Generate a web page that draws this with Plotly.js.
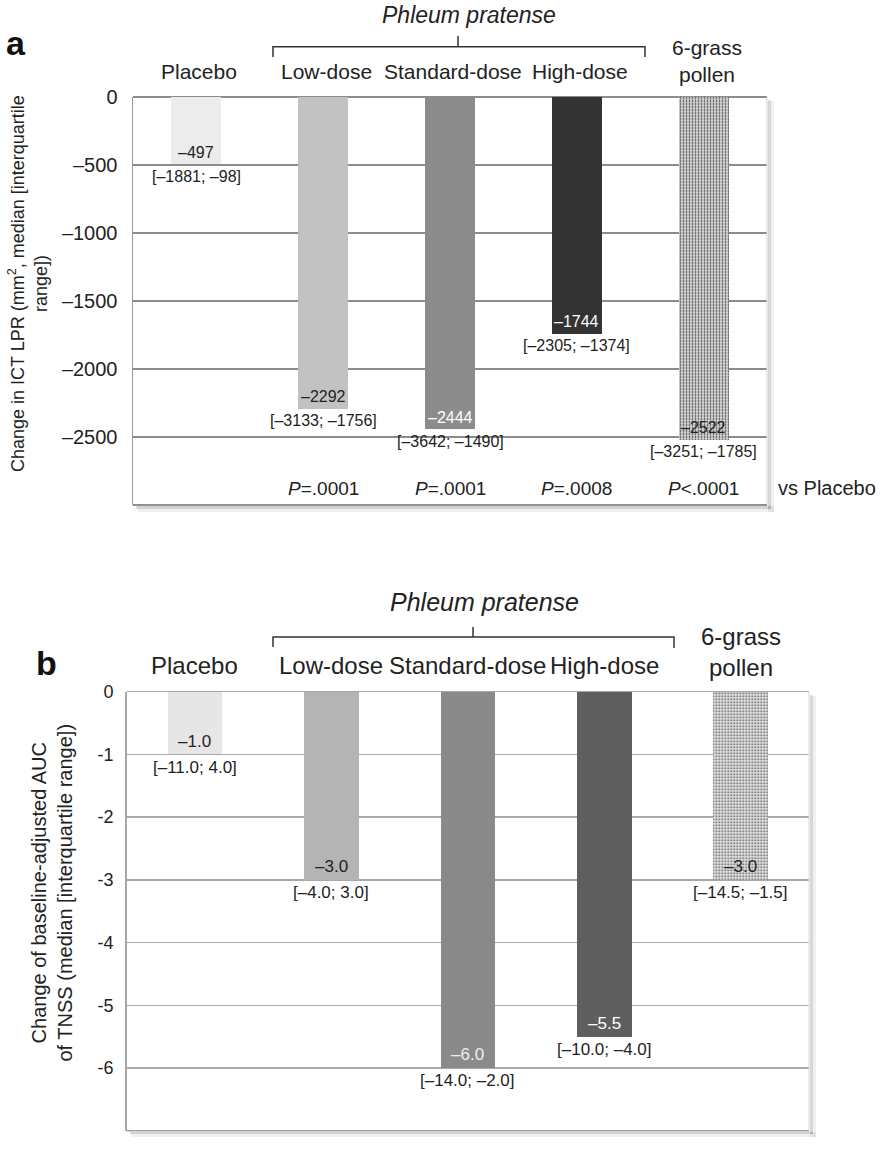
<!DOCTYPE html>
<html><head><meta charset="utf-8">
<script src="https://cdn.plot.ly/plotly-3.0.1.min.js"></script>
<style>html,body{margin:0;padding:0;background:#fff}</style>
</head><body><div id="chart" style="width:885px;height:1150px"></div>
<script>
// ---- data ----
const categories = ['Placebo', 'Low-dose', 'Standard-dose', 'High-dose', '6-grass<br>pollen'];
const lprMedian = [-497, -2292, -2444, -1744, -2522];
const lprQ1 = [-1881, -3133, -3642, -2305, -3251];
const lprQ3 = [-98, -1756, -1490, -1374, -1785];
const pCategories = ['Low-dose', 'Standard-dose', 'High-dose', '6-grass<br>pollen'];
const pValues = ['=.0001', '=.0001', '=.0008', '<.0001'];
const tnssMedian = [-1.0, -3.0, -6.0, -5.5, -3.0];
const tnssQ1 = [-11.0, -4.0, -14.0, -10.0, -14.5];
const tnssQ3 = [4.0, 3.0, -2.0, -4.0, -1.5];
const lprTicks = [0, -500, -1000, -1500, -2000, -2500];
const tnssTicks = [0, -1, -2, -3, -4, -5, -6];

// ---- style ----
const FONT = 'Liberation Sans, Arial, Helvetica, sans-serif';
const INK = '#222';
const colorsA = ['#ececec', '#c2c2c2', '#8c8c8c', '#333333', '#dadada'];
const colorsB = ['#e6e6e6', '#b4b4b4', '#8a8a8a', '#5f5f5f', '#e0e0e0'];
const inkA = [INK, INK, '#ffffff', '#ffffff', INK];
const inkB = [INK, INK, '#eeeeee', '#ffffff', INK];
const W = 885, H = 1150;
const px = x => x / W;
const py = y => 1 - y / H;
const dash = s => String(s).replace(/-/g, '\u2013');
const esc = s => s.replace(/</g, '&lt;');

const traces = [
  {
    type: 'bar', x: categories, y: lprMedian, xaxis: 'x', yaxis: 'y', width: 0.394,
    marker: {color: colorsA, line: {width: 0},
      pattern: {shape: ['', '', '', '', '.'], fgcolor: '#9a9a9a', fgopacity: 1, size: 3, solidity: 0.28, fillmode: 'overlay'}},
    hoverinfo: 'skip', showlegend: false
  },
  {
    type: 'bar', x: categories, y: tnssMedian, xaxis: 'x2', yaxis: 'y2', width: 0.40,
    marker: {color: colorsB, line: {width: 0},
      pattern: {shape: ['', '', '', '', '.'], fgcolor: '#9a9a9a', fgopacity: 1, size: 3, solidity: 0.25, fillmode: 'overlay'}},
    hoverinfo: 'skip', showlegend: false
  }
];

const ann = [];
// value + IQR labels, panel a
categories.forEach((c, i) => {
  ann.push({x: c, y: lprMedian[i], xref: 'x', yref: 'y', text: dash(lprMedian[i]), showarrow: false,
    xanchor: 'center', yshift: 12, yanchor: 'middle', font: {family: FONT, size: 16, color: inkA[i]}});
  ann.push({x: c, y: lprMedian[i], xref: 'x', yref: 'y', text: '[' + dash(lprQ1[i]) + '; ' + dash(lprQ3[i]) + ']', showarrow: false,
    xanchor: 'center', yshift: -12, yanchor: 'middle', font: {family: FONT, size: 16, color: INK}});
});
// value + IQR labels, panel b
categories.forEach((c, i) => {
  ann.push({x: c, y: tnssMedian[i], xref: 'x2', yref: 'y2', text: dash(tnssMedian[i].toFixed(1)), showarrow: false,
    xanchor: 'center', yshift: 13, yanchor: 'middle', font: {family: FONT, size: 17, color: inkB[i]}});
  ann.push({x: c, y: tnssMedian[i], xref: 'x2', yref: 'y2', text: '[' + dash(tnssQ1[i].toFixed(1)) + '; ' + dash(tnssQ3[i].toFixed(1)) + ']', showarrow: false,
    xanchor: 'center', yshift: -13, yanchor: 'middle', font: {family: FONT, size: 17, color: INK}});
});
// category headers
categories.forEach((c, i) => {
  const multi = c.indexOf('<br>') >= 0;
  ann.push({x: c, xref: 'x', y: py(multi ? 60.5 : 72), yref: 'paper', text: c, showarrow: false, xshift: 3,
    xanchor: 'center', yanchor: 'middle', font: {family: FONT, size: 21, color: INK}});
  ann.push({x: c, xref: 'x2', y: py(multi ? 651.5 : 665), yref: 'paper', text: c, showarrow: false,
    xanchor: 'center', yanchor: 'middle', font: {family: FONT, size: 24, color: INK}});
});
// p values
pCategories.forEach((c, i) => {
  ann.push({x: c, xref: 'x', y: py(488), yref: 'paper', text: '<i>P</i>' + esc(pValues[i]), showarrow: false,
    xanchor: 'center', yanchor: 'middle', font: {family: FONT, size: 19, color: INK}});
});
ann.push({x: px(776), y: py(488), xref: 'paper', yref: 'paper', xanchor: 'left', yanchor: 'middle', showarrow: false,
  text: 'vs Placebo', font: {family: FONT, size: 20, color: INK}});
// group titles
ann.push({x: px(469), y: py(15), xref: 'paper', yref: 'paper', showarrow: false, xanchor: 'center', yanchor: 'middle',
  text: '<i>Phleum pratense</i>', font: {family: FONT, size: 23, color: INK}});
ann.push({x: px(485), y: py(602), xref: 'paper', yref: 'paper', showarrow: false, xanchor: 'center', yanchor: 'middle',
  text: '<i>Phleum pratense</i>', font: {family: FONT, size: 25, color: INK}});
// panel letters
ann.push({x: px(16), y: py(43), xref: 'paper', yref: 'paper', showarrow: false, xanchor: 'center', yanchor: 'middle',
  text: '<b>a</b>', font: {family: FONT, size: 34, color: '#111'}});
ann.push({x: px(46), y: py(663), xref: 'paper', yref: 'paper', showarrow: false, xanchor: 'center', yanchor: 'middle',
  text: '<b>b</b>', font: {family: FONT, size: 34, color: '#111'}});
// y titles
ann.push({x: px(28), y: py(284), xref: 'paper', yref: 'paper', showarrow: false, textangle: -90,
  xanchor: 'center', yanchor: 'middle', align: 'center',
  text: 'Change in ICT LPR (mm<sup>2</sup>, median [interquartile<br>range])', font: {family: FONT, size: 18, color: INK}});
ann.push({x: px(51.5), y: py(893), xref: 'paper', yref: 'paper', showarrow: false, textangle: -90,
  xanchor: 'center', yanchor: 'middle', align: 'center',
  text: 'Change of baseline-adjusted AUC<br>of TNSS (median [interquartile range])', font: {family: FONT, size: 20, color: INK}});

const line = (pts, w, col) => ({type: 'path', xref: 'paper', yref: 'paper',
  path: pts.map((p, k) => (k ? 'L' : 'M') + px(p[0]) + ',' + py(p[1])).join(' '),
  line: {color: col || '#333', width: w || 1.5}});
const rect = (x0, y0, x1, y1, fill) => ({type: 'rect', xref: 'paper', yref: 'paper', layer: 'below',
  x0: px(x0), x1: px(x1), y0: py(y0), y1: py(y1), fillcolor: fill, line: {width: 0}});

const shapes = [
  // drop shadows (strips outside the plot boxes)
  rect(768, 101, 774, 512, 'rgba(0,0,0,0.06)'),
  rect(768, 100, 771, 509, 'rgba(0,0,0,0.10)'),
  rect(137, 506, 774, 512, 'rgba(0,0,0,0.06)'),
  rect(136, 506, 771, 509, 'rgba(0,0,0,0.12)'),
  rect(810, 696, 816, 1137, 'rgba(0,0,0,0.06)'),
  rect(810, 695, 813, 1134, 'rgba(0,0,0,0.10)'),
  rect(131, 1132, 816, 1137, 'rgba(0,0,0,0.06)'),
  rect(130, 1132, 813, 1134, 'rgba(0,0,0,0.12)'),
  // brackets
  line([[273, 57], [273, 46.7], [645, 46.7], [645, 57]]),
  line([[458, 46.7], [458, 36]]),
  line([[273, 647], [273, 637], [674, 637], [674, 648]]),
  line([[473, 637], [473, 627]]),
  // box borders
  line([[767, 96.5], [767, 505]], 1, '#d0d0d0'),
  line([[133, 505], [767, 505]], 2, '#909090'),
  line([[809, 691.7], [809, 1130.7]], 1, '#d8d8d8'),
  line([[126.7, 1130.7], [809, 1130.7]], 1.5, '#a0a0a0')
];

const layout = {
  width: W, height: H, margin: {l: 0, r: 0, t: 0, b: 0},
  paper_bgcolor: '#fff', plot_bgcolor: '#fff',
  bargap: 0, showlegend: false,
  xaxis: {domain: [px(133), px(767)], anchor: 'y', type: 'category', range: [-0.5, 4.5],
    showticklabels: false, showgrid: false, zeroline: false, showline: false, ticks: ''},
  yaxis: {domain: [py(505), py(96.5)], anchor: 'x', range: [-3000, 0], tickvals: lprTicks,
    ticktext: lprTicks.map(v => dash(v)), tickfont: {family: FONT, size: 20, color: INK},
    ticks: 'outside', ticklen: 10, tickcolor: 'rgba(0,0,0,0)',
    showgrid: true, gridcolor: '#8c8c8c', gridwidth: 2, zeroline: true, zerolinecolor: '#8c8c8c', zerolinewidth: 2,
    showline: true, linecolor: '#9a9a9a', linewidth: 1.5},
  xaxis2: {domain: [px(126.7), px(809)], anchor: 'y2', type: 'category', range: [-0.5, 4.5],
    showticklabels: false, showgrid: false, zeroline: false, showline: false, ticks: ''},
  yaxis2: {domain: [py(1130.7), py(691.7)], anchor: 'x2', range: [-7, 0], tickvals: tnssTicks,
    ticktext: tnssTicks.map(v => String(v)), tickfont: {family: FONT, size: 18, color: INK},
    ticks: 'outside', ticklen: 8, tickcolor: 'rgba(0,0,0,0)',
    showgrid: true, gridcolor: '#a8a8a8', gridwidth: 1.5, zeroline: true, zerolinecolor: '#a8a8a8', zerolinewidth: 1.5,
    showline: true, linecolor: '#a8a8a8', linewidth: 1.5},
  annotations: ann,
  shapes: shapes
};

Plotly.newPlot('chart', traces, layout, {staticPlot: true, displayModeBar: false});
</script></body></html>
